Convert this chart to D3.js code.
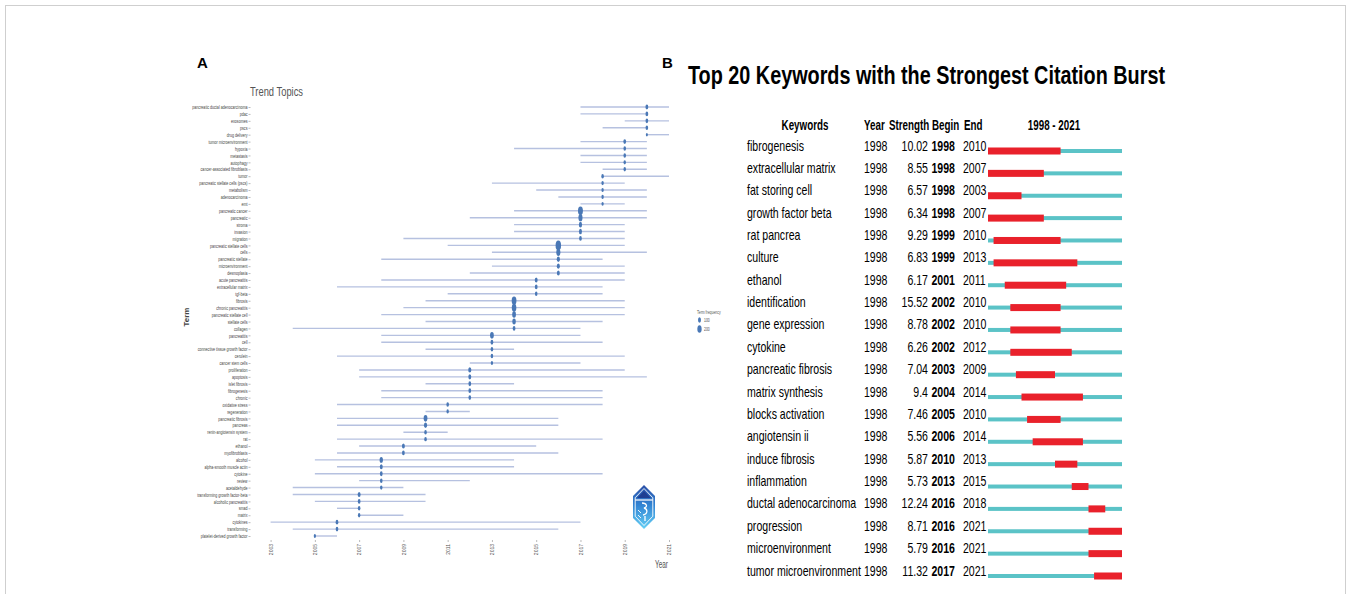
<!DOCTYPE html>
<html><head><meta charset="utf-8">
<script src="https://cdn.jsdelivr.net/npm/d3@7"></script>
<style>body{margin:0;background:#fff;} svg{display:block;}</style>
</head><body>
<svg id="chart" width="1351" height="594"></svg>
<script>
// ---------- Panel A: Trend Topics ----------
const termNames = ["pancreatic ductal adenocarcinoma","pdac","exosomes","pscs","drug delivery",
"tumor microenvironment","hypoxia","metastasis","autophagy","cancer-associated fibroblasts",
"tumor","pancreatic stellate cells (pscs)","metabolism","adenocarcinoma","emt",
"pancreatic cancer","pancreatic","stroma","invasion","migration",
"pancreatic stellate cells","cells","pancreatic stellate","microenvironment","desmoplasia",
"acute pancreatitis","extracellular matrix","tgf-beta",
"fibrosis","chronic pancreatitis","pancreatic stellate cell","stellate cells","collagen",
"pancreatitis","cell","connective tissue growth factor","cerulein","cancer stem cells",
"proliferation","apoptosis","islet fibrosis","fibrogenesis","chronic",
"oxidative stress","regeneration",
"pancreatic fibrosis","pancreas","renin-angiotensin system","rat",
"ethanol","myofibroblasts",
"alcohol","alpha-smooth muscle actin","cytokine","review","acetaldehyde",
"transforming growth factor-beta","alcoholic pancreatitis","smad","matrix",
"cytokines","transforming",
"platelet-derived growth factor"];
const termStart = [2017,2017,2019,2018,2020, 2017,2014,2017,2017,2018, 2018,2013,2015,2016,2017,
 2014,2012,2014,2014,2009, 2011,2013,2008,2013,2012, 2008,2006,2011, 2010,2009,2008,2010,2004,
 2008,2008,2010,2006,2012, 2007,2007,2010,2008,2008, 2006,2010, 2006,2006,2009,2006, 2007,2006,
 2005,2006,2005,2007,2004, 2004,2005,2006,2007, 2003,2004, 2005];
const termMedian = [2020,2020,2020,2020,2020, 2019,2019,2019,2019,2019, 2018,2018,2018,2018,2018,
 2017,2017,2017,2017,2017, 2016,2016,2016,2016,2016, 2015,2015,2015, 2014,2014,2014,2014,2014,
 2013,2013,2013,2013,2013, 2012,2012,2012,2012,2012, 2011,2011, 2010,2010,2010,2010, 2009,2009,
 2008,2008,2008,2008,2008, 2007,2007,2007,2007, 2006,2006, 2005];
const termEnd = [2021,2020,2021,2020,2021, 2020,2020,2020,2020,2020, 2021,2019,2020,2020,2019,
 2020,2020,2019,2019,2019, 2019,2020,2018,2019,2019, 2019,2018,2018, 2019,2019,2019,2018,2017,
 2017,2018,2014,2019,2017, 2019,2020,2014,2018,2018, 2018,2012, 2016,2016,2011,2018, 2015,2016,
 2014,2014,2018,2012,2009, 2010,2010,2007,2009, 2017,2016, 2006];
const termFreq = [85,80,75,70,45, 80,70,70,65,65, 70,65,60,60,55, 260,180,110,100,80,
 320,180,110,100,90, 90,80,70, 240,220,150,130,80, 150,80,70,70,60, 100,90,80,80,75, 70,60,
 150,110,70,70, 90,80, 120,90,80,70,65, 90,80,70,65, 80,75, 55];
const yearTicks = [2003,2005,2007,2009,2011,2013,2015,2017,2019,2021];
const legendFreq = [100,200];

// ---------- Panel B: Citation bursts ----------
const kwNames = ["fibrogenesis","extracellular matrix","fat storing cell","growth factor beta","rat pancrea",
"culture","ethanol","identification","gene expression","cytokine","pancreatic fibrosis","matrix synthesis",
"blocks activation","angiotensin ii","induce fibrosis","inflammation","ductal adenocarcinoma","progression",
"microenvironment","tumor microenvironment"];
const kwYear = [1998,1998,1998,1998,1998,1998,1998,1998,1998,1998,1998,1998,1998,1998,1998,1998,1998,1998,1998,1998];
const kwStrength = [10.02,8.55,6.57,6.34,9.29,6.83,6.17,15.52,8.78,6.26,7.04,9.4,7.46,5.56,5.87,5.73,12.24,8.71,5.79,11.32];
const kwBegin = [1998,1998,1998,1998,1999,1999,2001,2002,2002,2002,2003,2004,2005,2006,2010,2013,2016,2016,2016,2017];
const kwEnd = [2010,2007,2003,2007,2010,2013,2011,2010,2010,2012,2009,2014,2010,2014,2013,2015,2018,2021,2021,2021];
const burstRange = [1998,2021];

const svg = d3.select("#chart");
const defs = svg.append("defs");

// figure frame
svg.append("rect").attr("x",5.5).attr("y",5.5).attr("width",1340).attr("height",600)
  .attr("fill","none").attr("stroke","#cfcfcf").attr("stroke-width",1);

function txt(parent, x, y, s, o = {}) {
  const t = parent.append("text")
    .attr("transform", `translate(${x},${y}) scale(${o.sx || 1},1)`)
    .attr("font-family", o.family || "'Liberation Sans', Arial, sans-serif")
    .attr("font-size", o.size || 12)
    .attr("font-weight", o.weight || "normal")
    .attr("fill", o.fill || "#000")
    .attr("text-anchor", o.anchor || "start")
    .attr("dominant-baseline", "central")
    .text(s);
  if (o.len) t.attr("textLength", o.len).attr("lengthAdjust", "spacingAndGlyphs");
  return t;
}

// ===== Panel A =====
const gA = svg.append("g");
txt(gA, 197, 62, "A", {size: 15, weight: "bold"});
txt(gA, 250, 91, "Trend Topics", {size: 13, fill: "#555", len: 53, family: "'Liberation Sans Narrow','Liberation Sans',sans-serif"});

const xA = d3.scaleLinear().domain([2003, 2021]).range([270.6, 669]);
const yA = d3.scalePoint().domain(termNames).range([107, 536]);
const rA = d3.scaleSqrt().domain([0, 320]).range([0, 4.8]);

// y axis
const yAxG = gA.append("g").attr("transform", "translate(250.5,0)")
  .call(d3.axisLeft(yA).tickSize(2).tickPadding(1));
yAxG.select(".domain").remove();
yAxG.selectAll(".tick line").attr("stroke", "#777").attr("stroke-width", 0.5);
yAxG.selectAll(".tick text")
  .attr("font-family", "'Liberation Sans', Arial, sans-serif")
  .attr("font-size", 5.2).attr("fill", "#444")
  .attr("x", -4.3).attr("dy", "0.32em")
  .attr("transform", "scale(0.7,1)");

// x axis
const xAxG = gA.append("g").attr("transform", "translate(0,540)")
  .call(d3.axisBottom(xA).tickValues(yearTicks).tickFormat(d3.format("d")).tickSize(2));
xAxG.select(".domain").remove();
xAxG.selectAll(".tick line").attr("stroke", "#777").attr("stroke-width", 0.5);
xAxG.selectAll(".tick text")
  .attr("font-family", "'Liberation Sans', Arial, sans-serif")
  .attr("font-size", 5).attr("fill", "#555")
  .attr("text-anchor", "end").attr("y", 0).attr("x", -4).attr("dy", "0.35em")
  .attr("transform", "rotate(-90)");

// axis titles
gA.append("text").attr("transform", "translate(186,317) rotate(-90)")
  .attr("font-family", "'Liberation Sans', Arial, sans-serif").attr("font-size", 8).attr("font-weight", "bold")
  .attr("fill", "#444").attr("text-anchor", "middle").attr("dominant-baseline", "central").text("Term");
txt(gA, 655, 564, "Year", {size: 10, fill: "#555", len: 13, family: "'Liberation Sans Narrow','Liberation Sans',sans-serif"});

// segments
const termData = termNames.map((n, i) => ({n, s: termStart[i], m: termMedian[i], e: termEnd[i], f: termFreq[i]}));
gA.append("g").selectAll("line").data(termData).join("line")
  .attr("x1", d => xA(d.s)).attr("x2", d => xA(d.e))
  .attr("y1", d => yA(d.n)).attr("y2", d => yA(d.n))
  .attr("stroke", "#b6c1e0").attr("stroke-width", 1.4);
gA.append("g").selectAll("ellipse").data(termData).join("ellipse")
  .attr("cx", d => xA(d.m)).attr("cy", d => yA(d.n))
  .attr("rx", d => rA(d.f) * 0.57).attr("ry", d => rA(d.f))
  .attr("fill", "#4a78b6");

// legend
const lg = gA.append("g");
txt(lg, 697, 312, "Term frequency", {size: 4.6, fill: "#555", sx: 0.75});
legendFreq.forEach((v, i) => {
  lg.append("ellipse").attr("cx", 699.5).attr("cy", 320 + i * 9)
    .attr("rx", rA(v) * 0.57).attr("ry", rA(v)).attr("fill", "#4a78b6");
  txt(lg, 704, 320 + i * 9, String(v), {size: 4.6, fill: "#555", sx: 0.75});
});

// logo
const grad = defs.append("linearGradient").attr("id", "logoGrad").attr("x1", 0).attr("y1", 0).attr("x2", 0).attr("y2", 1);
grad.append("stop").attr("offset", "0%").attr("stop-color", "#2c4fa6");
grad.append("stop").attr("offset", "45%").attr("stop-color", "#3183d3");
grad.append("stop").attr("offset", "100%").attr("stop-color", "#66d0f5");
const logo = gA.append("g").attr("transform", "translate(644,507)");
const hex = (w, h) => `M0,${-h} L${w},${-h/2} L${w},${h/2} L0,${h} L${-w},${h/2} L${-w},${-h/2} Z`;
logo.append("path").attr("d", hex(11, 22)).attr("fill", "url(#logoGrad)");
logo.append("path").attr("d", hex(8.8, 18.5)).attr("fill", "none").attr("stroke", "#fff").attr("stroke-width", 0.9);
logo.append("path").attr("d", "M0,-16 L7,-9 L-7,-9 Z").attr("fill", "#1f3f92");
logo.append("line").attr("x1", -8.8).attr("x2", 8.8).attr("y1", -7).attr("y2", -7).attr("stroke", "#fff").attr("stroke-width", 1.2);
logo.append("path").attr("d", "M-2,-4 C3,-4 4,0 0,1 C4,2 4,7 -1,8 M1,9 L1,14").attr("fill", "none").attr("stroke", "#fff").attr("stroke-width", 1.3);
logo.append("path").attr("d", "M-6,3 L-3,6 M-6,8 L-3,11").attr("fill", "none").attr("stroke", "#fff").attr("stroke-width", 0.9);

// ===== Panel B =====
const gB = svg.append("g");
txt(gB, 662, 62, "B", {size: 15, weight: "bold"});
txt(gB, 688, 75, "Top 20 Keywords with the Strongest Citation Burst", {size: 26, weight: "bold", len: 477});

const headerY = 125;
const hdr = {size: 14, weight: "bold", sx: 0.7};
txt(gB, 805, headerY, "Keywords", {...hdr, anchor: "middle"});
txt(gB, 864, headerY, "Year", hdr);
txt(gB, 889, headerY, "Strength", hdr);
txt(gB, 932, headerY, "Begin", hdr);
txt(gB, 964, headerY, "End", hdr);
txt(gB, 1054, headerY, `${burstRange[0]} - ${burstRange[1]}`, {...hdr, anchor: "middle"});

const yB = d3.scalePoint().domain(kwNames).range([146, 571]);
const xB = d3.scaleLinear().domain([burstRange[0], burstRange[1] + 1]).range([988, 1122]);
const cell = {size: 14, sx: 0.755};
kwNames.forEach((k, i) => {
  const y = yB(k);
  txt(gB, 747, y, k, cell);
  txt(gB, 864, y, String(kwYear[i]), cell);
  txt(gB, 928, y, String(kwStrength[i]), {...cell, anchor: "end"});
  txt(gB, 931.5, y, String(kwBegin[i]), {...cell, weight: "bold"});
  txt(gB, 963, y, String(kwEnd[i]), cell);
});
const bars = gB.append("g");
bars.selectAll("rect.base").data(kwNames).join("rect").attr("class", "base")
  .attr("x", xB(burstRange[0])).attr("width", xB(burstRange[1] + 1) - xB(burstRange[0]))
  .attr("y", d => yB(d) + 3).attr("height", 4).attr("fill", "#5bc3c7");
bars.selectAll("rect.burst").data(kwNames).join("rect").attr("class", "burst")
  .attr("x", (d, i) => xB(kwBegin[i])).attr("width", (d, i) => xB(kwEnd[i] + 1) - xB(kwBegin[i]))
  .attr("y", d => yB(d) + 1.5).attr("height", 7).attr("fill", "#e9212b");
</script>
</body></html>
